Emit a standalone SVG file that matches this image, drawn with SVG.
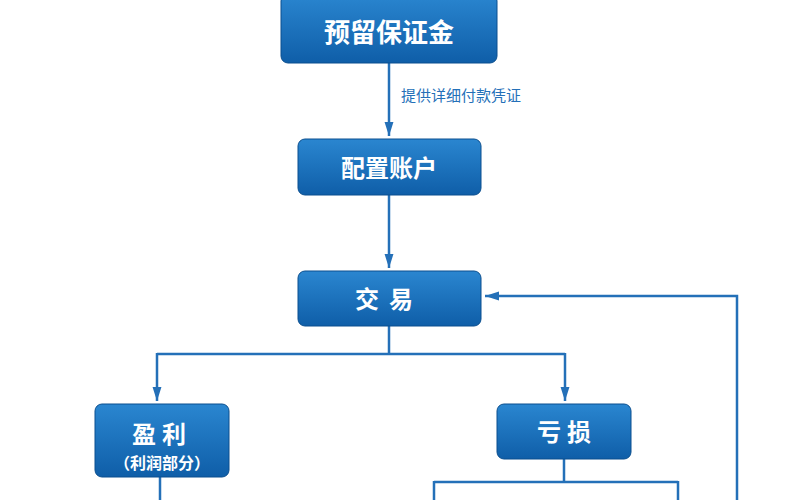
<svg xmlns="http://www.w3.org/2000/svg" width="800" height="500" viewBox="0 0 800 500">
<defs>
<linearGradient id="g" x1="0" y1="0" x2="0" y2="1"><stop offset="0" stop-color="#2a86d0"/><stop offset="1" stop-color="#0f5ea8"/></linearGradient>
<marker id="a" markerWidth="10" markerHeight="10" refX="9" refY="5" orient="auto" markerUnits="userSpaceOnUse" viewBox="0 0 10 10"><path d="M0,0L10,5L0,10z" fill="#2470b8"/></marker>
<marker id="b" markerWidth="14" markerHeight="22" refX="22" refY="7" orient="auto" markerUnits="userSpaceOnUse" viewBox="0 0 22 14"><path d="M0,0L22,7L0,14z" fill="#2470b8"/></marker>
</defs>
<style>
.n{fill:url(#g);stroke:#0b4f8f;stroke-width:1}
.t{font-family:"Noto Sans CJK SC",sans-serif;font-weight:bold;fill:#fff;text-anchor:middle}
.c{fill:none;stroke:#2470b8;stroke-width:2.5}
</style>
<rect width="800" height="500" fill="#fff"/>
<g id="connectors">
<path class="c" d="M389,63V136" marker-end="url(#b)"/>
<path class="c" d="M389,195V268" marker-end="url(#b)"/>
<path class="c" d="M389,326V354M157,354H565M157,353V401" marker-end="url(#b)"/>
<path class="c" d="M565,353V401" marker-end="url(#b)"/>
<path class="c" d="M160,477V500M564,459V482M434,482H678M434,481V500M678,481V500"/>
<path class="c" d="M737,500V296H485" marker-end="url(#b)"/>
<text x="401" y="101" font-family="Noto Sans CJK SC,sans-serif" font-size="15" fill="#2470b8">提供详细付款凭证</text>
</g>
<g id="n1"><rect class="n" x="281" y="-6" width="216" height="69" rx="7"/><text class="t" x="389" y="42" font-size="26">预留保证金</text></g>
<g id="n2"><rect class="n" x="298" y="139" width="183" height="56" rx="7"/><text class="t" x="389" y="177" font-size="24">配置账户</text></g>
<g id="n3"><rect class="n" x="298" y="271" width="183" height="55" rx="7"/><text class="t" x="389" y="308" font-size="24" letter-spacing="10">交易</text></g>
<g id="n4"><rect class="n" x="95" y="404" width="134" height="73" rx="7"/><text class="t" x="162" y="443" font-size="24" letter-spacing="6">盈利</text><text class="t" x="162" y="469" font-size="16">（利润部分）</text></g>
<g id="n5"><rect class="n" x="497" y="404" width="134" height="55" rx="7"/><text class="t" x="567" y="441" font-size="24" letter-spacing="6">亏损</text></g>
</svg>
